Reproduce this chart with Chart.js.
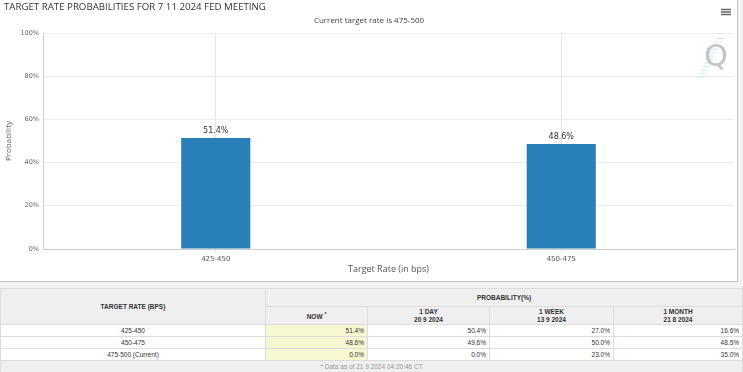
<!DOCTYPE html>
<html>
<head>
<meta charset="utf-8">
<script src="https://cdn.jsdelivr.net/npm/chart.js@4"></script>
<style>
  body { margin: 0; background: #f2f2f2; width: 743px; height: 372px; overflow: hidden; }
  #box { position: absolute; left: 0; top: 0; width: 737px; height: 281px; background: #fff;
         border-right: 1px solid #c4c4c4; border-bottom: 1px solid #c4c4c4; }
  #tbl { position: absolute; left: 0; top: 288px; width: 742px; border-collapse: collapse; table-layout: fixed;
         font-family: "Liberation Sans", Arial, sans-serif; font-size: 6.5px; color: #333; background: #fff; }
  #tbl td, #tbl th { border: 1px solid #dcdcdc; padding: 0 3px; overflow: hidden; white-space: nowrap; }
  #tbl th { background: #efefef; font-weight: bold; text-align: center; line-height: 8px; }
  #tbl td { text-align: right; height: 11px; line-height: 10px; }
  #tbl td.rate { text-align: center; }
  #tbl td.now { background: #f7f7d2; }
  #tbl td.foot { background: #efefef; text-align: center; color: #999; }
</style>
</head>
<body>
<div id="box"><canvas id="chart" width="737" height="281"></canvas></div>
<table id="tbl">
  <colgroup><col style="width:265px"><col style="width:102px"><col style="width:122px"><col style="width:124px"><col style="width:129px"></colgroup>
  <thead>
    <tr><th rowspan="2" style="height:35px">TARGET RATE (BPS)</th><th colspan="4" style="height:17px">PROBABILITY(%)</th></tr>
    <tr id="sub"></tr>
  </thead>
  <tbody id="rows"></tbody>
</table>
<script>
var categories = ['425-450', '450-475'];
var probNow = [51.4, 48.6];
var yTicks = [0, 20, 40, 60, 80, 100];

var tableRates = ['425-450', '450-475', '475-500 (Current)'];
var tableNow = [51.4, 48.6, 0.0];
var tableDay = [50.4, 49.6, 0.0];
var tableWeek = [27.0, 50.0, 23.0];
var tableMonth = [16.6, 48.5, 35.0];
var tableHeads = ['NOW', '1 DAY', '1 WEEK', '1 MONTH'];
var tableDates = ['', '20 9 2024', '13 9 2024', '21 8 2024'];

function buildTable() {
  var sub = document.getElementById('sub');
  for (var i = 0; i < tableHeads.length; i++) {
    var th = document.createElement('th');
    th.style.height = '17px';
    th.innerHTML = i === 0 ? 'NOW <sup style="font-size:5px">*</sup>' : tableHeads[i] + '<br>' + tableDates[i];
    sub.appendChild(th);
  }
  var body = document.getElementById('rows');
  for (var r = 0; r < tableRates.length; r++) {
    var tr = document.createElement('tr');
    tr.innerHTML = '<td class="rate">' + tableRates[r] + '</td>' +
      '<td class="now">' + tableNow[r].toFixed(1) + '%</td>' +
      '<td>' + tableDay[r].toFixed(1) + '%</td>' +
      '<td>' + tableWeek[r].toFixed(1) + '%</td>' +
      '<td>' + tableMonth[r].toFixed(1) + '%</td>';
    body.appendChild(tr);
  }
  var ft = document.createElement('tr');
  ft.innerHTML = '<td class="foot" colspan="5">* Data as of 21 9 2024 04:20:46 CT</td>';
  body.appendChild(ft);
}

var extras = {
  id: 'extras',
  afterDatasetsDraw: function(chart) {
    var ctx = chart.ctx;
    var meta = chart.getDatasetMeta(0);
    ctx.save();
    ctx.fillStyle = '#333';
    ctx.font = '8px "DejaVu Sans"';
    ctx.textAlign = 'center';
    ctx.textBaseline = 'bottom';
    meta.data.forEach(function(bar, i) {
      ctx.fillText(probNow[i].toFixed(1) + '%', bar.x, bar.y - 3);
    });
    // watermark: slanted dashes behind a grey Q
    ctx.strokeStyle = '#c6ecf8';
    ctx.lineWidth = 1;
    for (var k = 0; k < 12; k++) {
      var yy = 77 - k * 3.5;
      var xx = 697 + k * 1.8;
      ctx.beginPath();
      ctx.moveTo(xx, yy);
      ctx.lineTo(xx + 7, yy);
      ctx.stroke();
    }
    ctx.fillStyle = '#c4c4c4';
    ctx.font = '30px "DejaVu Sans"';
    ctx.textAlign = 'center';
    ctx.textBaseline = 'middle';
    ctx.fillText('Q', 716, 58);
    // menu icon
    ctx.strokeStyle = '#666';
    ctx.lineWidth = 1.5;
    [9.5, 12, 14.5].forEach(function(y) {
      ctx.beginPath();
      ctx.moveTo(721, y);
      ctx.lineTo(731, y);
      ctx.stroke();
    });
    ctx.restore();
  }
};

buildTable();

new Chart(document.getElementById('chart'), {
  type: 'bar',
  data: {
    labels: categories,
    datasets: [{
      label: 'Probability',
      data: probNow,
      backgroundColor: '#2980b9',
      borderColor: '#2980b9',
      borderWidth: 0,
      categoryPercentage: 1,
      barPercentage: 0.2
    }]
  },
  options: {
    responsive: false,
    animation: false,
    layout: { padding: { left: 4, right: 3, top: 0, bottom: 6 } },
    plugins: {
      legend: { display: false },
      tooltip: { enabled: false },
      title: {
        display: true,
        text: 'TARGET RATE PROBABILITIES FOR 7 11 2024 FED MEETING',
        align: 'start',
        color: '#333',
        font: { family: 'Open Sans', size: 9.7, weight: 'normal' },
        padding: { top: 1.2, bottom: 3.2 }
      },
      subtitle: {
        display: true,
        text: 'Current target rate is 475-500',
        color: '#444',
        font: { family: 'Open Sans', size: 8 },
        padding: { top: 0, bottom: 7.4 }
      }
    },
    scales: {
      x: {
        grid: { offset: false, color: '#e6e6e6', drawTicks: true, tickLength: 4 },
        border: { color: '#ccc' },
        ticks: { color: '#555', font: { family: 'DejaVu Sans', size: 7 }, padding: 2 },
        title: { display: true, text: 'Target Rate (in bps)', color: '#555',
                 font: { family: 'Open Sans', size: 9 }, padding: { top: 1, bottom: 0 } },
        afterFit: function(scale) { scale.height = 26; }
      },
      y: {
        min: 0,
        max: 100,
        afterBuildTicks: function(scale) { scale.ticks = yTicks.map(function(v) { return { value: v }; }); },
        grid: { color: '#ececec', drawTicks: false },
        border: { color: '#ccc' },
        ticks: { color: '#666', font: { family: 'DejaVu Sans', size: 6.5 }, padding: 4,
                 callback: function(v) { return v + '%'; } },
        title: { display: true, text: 'Probability', color: '#666',
                 font: { family: 'Open Sans', size: 8 }, padding: { top: 0, bottom: 2 } },
        afterFit: function(scale) { scale.width = 39; }
      }
    }
  },
  plugins: [extras]
});
</script>
</body>
</html>
